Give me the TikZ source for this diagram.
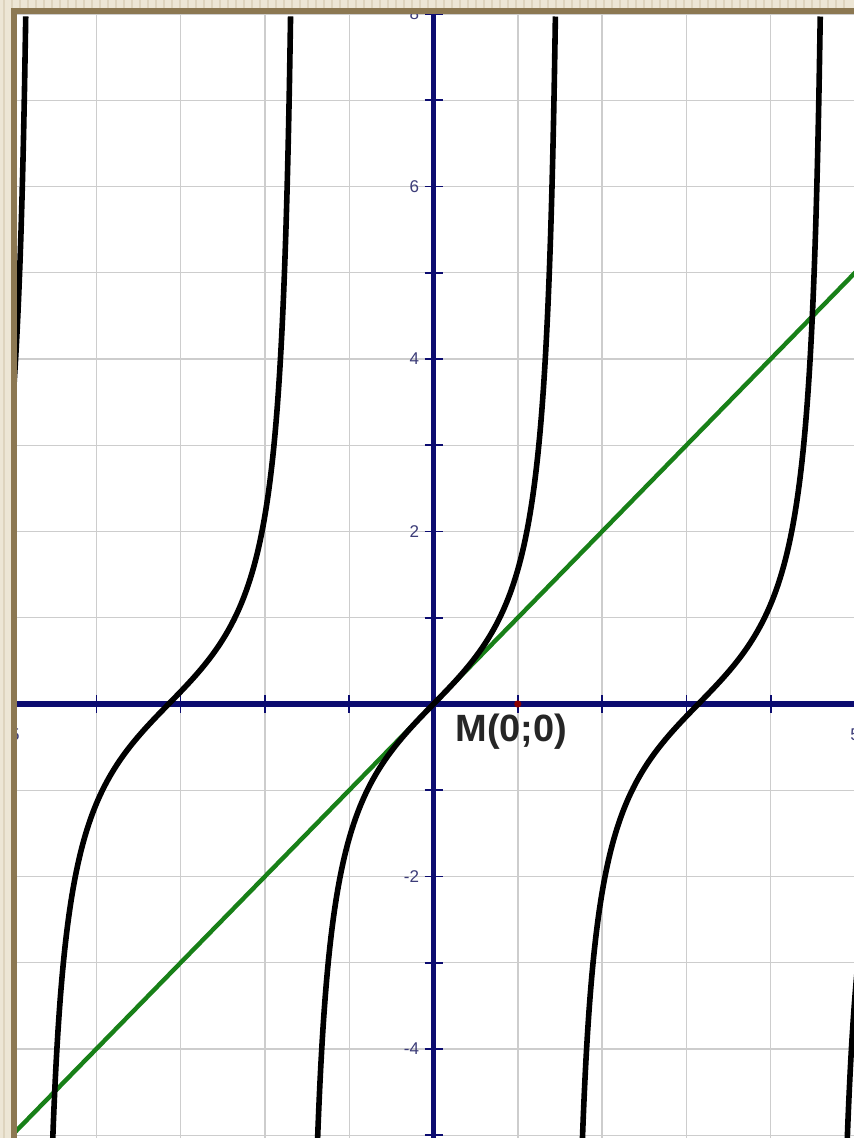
\documentclass[tikz,border=0pt]{standalone}
\usepackage{fontspec}
\setsansfont{Liberation Sans}

\definecolor{axisblue}{RGB}{12,12,112}
\definecolor{labelblue}{RGB}{60,60,120}
\definecolor{framebrown}{RGB}{140,120,82}
\definecolor{framebeige}{RGB}{237,230,213}
\definecolor{stripebeige}{RGB}{222,212,190}
\definecolor{graphgreen}{RGB}{24,128,24}
\definecolor{gridgray}{RGB}{205,205,205}

\begin{document}
\begin{tikzpicture}[x=0.5pt, y=0.5pt, every node/.style={font=\sffamily}]
	\useasboundingbox (0,0) rectangle (854,1138);
	\fill[white] (0,0) rectangle (854,1138);
	\begin{scope}
		\clip (17,0) rectangle (854,1124);
		\begin{scope}[shift={(433.5,434)}, x=42.15pt, y=43.125pt]
			% grid and axes
			\foreach \i in {-6,...,6}
				\draw[gridgray, line width=0.7pt] (\i,-6) -- (\i,9);
			\foreach \j in {-6,...,9}
				\draw[gridgray, line width=0.7pt] (-6,\j) -- (6,\j);
			\draw[axisblue, line width=2.7pt] (-6,0) -- (6,0);
			\draw[axisblue, line width=2.7pt] (0,-6) -- (0,9);
			\foreach \i in {-5,...,5}
				\draw[axisblue, line width=0.8pt] (\i,0) ++(0pt,-4.5pt) -- ++(0pt,9pt);
			\foreach \j in {-5,...,8}
				\draw[axisblue, line width=0.8pt] (0,\j) ++(-4.5pt,0pt) -- ++(9pt,0pt);
			\foreach \j in {-4,-2,2,4,6,8}
				\node[labelblue, anchor=east, inner sep=0pt, font=\sffamily\fontsize{8.5}{10}\selectfont] (ylab\j) at ([xshift=-7pt]0,\j) {\j};
			\foreach \i in {-5,5}
				\node[labelblue, inner sep=0pt, font=\sffamily\fontsize{8.5}{10}\selectfont] (xlab\i) at ([yshift=-15.5pt]\i,0) {\i};
			% line y = x
			\draw[graphgreen, line width=2.2pt] (-6,-6) -- (6,6);
			% y = tan x
			\foreach \k in {-2,...,2}{
				\pgfmathsetmacro\lo{\k*pi-1.381}
				\pgfmathsetmacro\hi{\k*pi+1.449}
				\draw[black, line width=2.8pt, domain=\lo:\hi, samples=200, smooth] plot (\x, {tan(\x r)});
			}
			\fill[red!55!black] (1,0) circle (1.8pt);
			\node[anchor=west, inner sep=0pt, text=black!85, font=\sffamily\bfseries\fontsize{19}{22}\selectfont] (mlabel) at (0.255,-0.325) {M(0;0)};
		\end{scope}
	\end{scope}
	% frame
	\fill[framebeige] (0,0) rectangle (11,1138);
	\fill[framebeige] (0,1130) rectangle (854,1138);
	\foreach \s in {4,12,...,850}
		\draw[stripebeige, line width=1pt] (\s,1130) -- (\s,1138);
	\draw[stripebeige, line width=1pt] (4,0) -- (4,1130);
	\fill[framebrown] (11,0) rectangle (17,1130);
	\fill[framebrown] (11,1124) rectangle (854,1130);
\end{tikzpicture}
\end{document}
